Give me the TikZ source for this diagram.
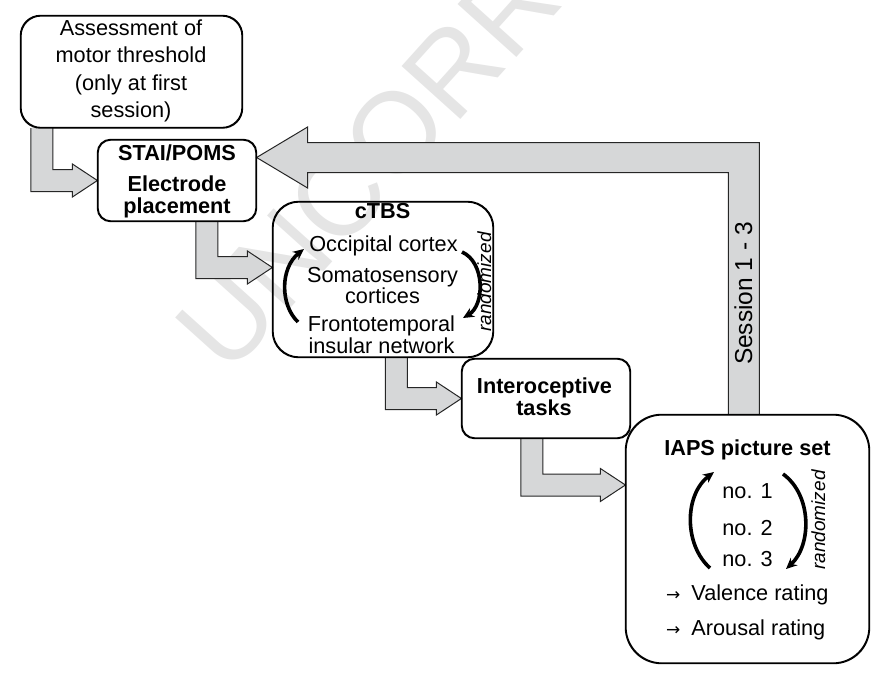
\documentclass[tikz,border=0pt]{standalone}
\usepackage{fontspec}
\setmainfont{Liberation Sans}
\newfontfamily\dejavu{DejaVu Sans}
\usetikzlibrary{calc,arrows.meta}
\definecolor{arrowgray}{HTML}{D6D7D8}
\newcommand\Larrow[5]{%
  \draw[blk] let \p1=#1, \p2=#2 in
    (\x1-#3,\y1) -- (\x1-#3,\y2-#3) -- (\x2-#5,\y2-#3) -- (\x2-#5,\y2-#4)
    -- (\x2,\y2) -- (\x2-#5,\y2+#4) -- (\x2-#5,\y2+#3) -- (\x1+#3,\y2+#3) -- (\x1+#3,\y1);}
\begin{document}
\begin{tikzpicture}[x=1pt,y=-1pt,
  rbox/.style={draw=black, line width=1.2pt, rounded corners=#1, inner sep=0pt},
  blk/.style={draw=black!85, line width=1pt, fill=arrowgray, line join=miter},
  txt/.style={font=\fontsize{21.7}{26}\selectfont, inner sep=0pt, anchor=base},
  btxt/.style={font=\fontsize{21.7}{26}\selectfont\bfseries, inner sep=0pt, anchor=base},
  rnd/.style={font=\fontsize{19}{19}\selectfont\itshape, inner sep=0pt, anchor=base, rotate=90},
  cyc/.style={line width=3.6pt, -{Stealth[length=11pt,width=10pt]}}]
\useasboundingbox (0,0) rectangle (886,677);
% watermark
\begin{scope}
\clip (0,0) rectangle (886,677);
\node[rotate=48, anchor=base west, font=\fontsize{115}{115}\selectfont, text=black!10, inner sep=0pt] (wm) at (228,378) {UNCORRECTED PROOF};
\end{scope}
% boxes (positions)
\node[rbox=20pt, minimum width=221pt, minimum height=111.5pt] (b1) at (131.5,71.75) {};
\node[rbox=13pt, minimum width=158pt, minimum height=81pt] (b2) at (177,180.5) {};
\node[rbox=26pt, minimum width=220pt, minimum height=155pt] (b3) at (383,279.5) {};
\node[rbox=13pt, minimum width=168pt, minimum height=79pt] (b4) at (546,398.5) {};
\node[rbox=36pt, minimum width=243pt, minimum height=248pt] (b5) at (747.5,539) {};
% block arrows
\Larrow{($(b1.south west)+(21.5,0)$)}{(b2.west)}{11pt}{16.5pt}{25pt}
\Larrow{($(b2.south west)+(109.5,0)$)}{($(b3.west)+(0,-12)$)}{11pt}{16.5pt}{25pt}
\Larrow{($(b3.south west)+(124,0)$)}{(b4.west)}{11pt}{16.5pt}{25pt}
\Larrow{($(b4.south west)+(70.5,0)$)}{($(b5.west)+(0,-54)$)}{11pt}{16.5pt}{25pt}
\draw[blk] let \p1=($(b5.north west)+(118.5,0)$), \p2=($(b2.east)+(0,-23)$) in
  (\x1-15.5pt,\y1) -- (\x1-15.5pt,\y2-15pt) -- (\x2+51pt,\y2-15pt) -- (\x2+51pt,\y2-30.5pt)
  -- (\x2,\y2) -- (\x2+51pt,\y2+30.5pt) -- (\x2+51pt,\y2+15pt) -- (\x1+15.5pt,\y2+15pt) -- (\x1+15.5pt,\y1);
% redraw box outlines on top
\draw[line width=1.2pt, rounded corners=20pt] (b1.south west) rectangle (b1.north east);
\draw[line width=1.2pt, rounded corners=13pt] (b2.south west) rectangle (b2.north east);
\draw[line width=1.2pt, rounded corners=26pt] (b3.south west) rectangle (b3.north east);
\draw[line width=1.2pt, rounded corners=13pt] (b4.south west) rectangle (b4.north east);
\draw[line width=1.2pt, rounded corners=36pt] (b5.south west) rectangle (b5.north east);
\node[rotate=90, anchor=base, font=\fontsize{24.5}{24.5}\selectfont, inner sep=0pt] (ses) at (752,293.5) {Session 1 - 3};
% texts box 1
\node[txt] (t1a) at (131,36) {Assessment of};
\node[txt] (t1b) at (131,63) {motor threshold};
\node[txt] (t1c) at (131,90.5) {(only at first};
\node[txt] (t1d) at (131,117.5) {session)};
% box 2
\node[btxt] (t2a) at (177,160) {STAI/POMS};
\node[btxt] (t2b) at (177,191.5) {Electrode};
\node[btxt] (t2c) at (177,213.5) {placement};
% box 3
\node[btxt] (t3a) at (382.5,218) {cTBS};
\node[txt] (t3b) at (383.5,251) {Occipital cortex};
\node[txt] (t3c) at (382.5,282.5) {Somatosensory};
\node[txt] (t3d) at (382.5,303) {cortices};
\node[txt] (t3e) at (381.5,331.5) {Frontotemporal};
\node[txt] (t3f) at (381.5,353) {insular network};
\node[rnd] (r3) at (491,282) {randomized};
\draw[cyc] (298,322) .. controls (280,305) and (280,268) .. (304,249);
\draw[cyc] (462,252) .. controls (485,262) and (485,305) .. (463,318);
% box 4
\node[btxt] (t4a) at (544.5,393.5) {Interoceptive};
\node[btxt] (t4b) at (544,415) {tasks};
% box 5
\node[btxt] (t5a) at (747.5,455) {IAPS picture set};
\node[txt] (t5b) at (747.5,498) {no. 1};
\node[txt] (t5c) at (747.5,535) {no. 2};
\node[txt] (t5d) at (747.5,566.5) {no. 3};
\node[rnd] (r5) at (825,520) {randomized};
\draw[cyc] (710,568) .. controls (684,545) and (684,495) .. (714,472);
\draw[cyc] (783,474) .. controls (812,495) and (812,545) .. (786,569);
\node[txt, anchor=base west] (t5e) at (666,600) {{\dejavu\fontsize{17}{17}\selectfont →}\hspace{11pt}Valence rating};
\node[txt, anchor=base west] (t5f) at (666,635) {{\dejavu\fontsize{17}{17}\selectfont →}\hspace{11pt}Arousal rating};
\end{tikzpicture}
\end{document}
